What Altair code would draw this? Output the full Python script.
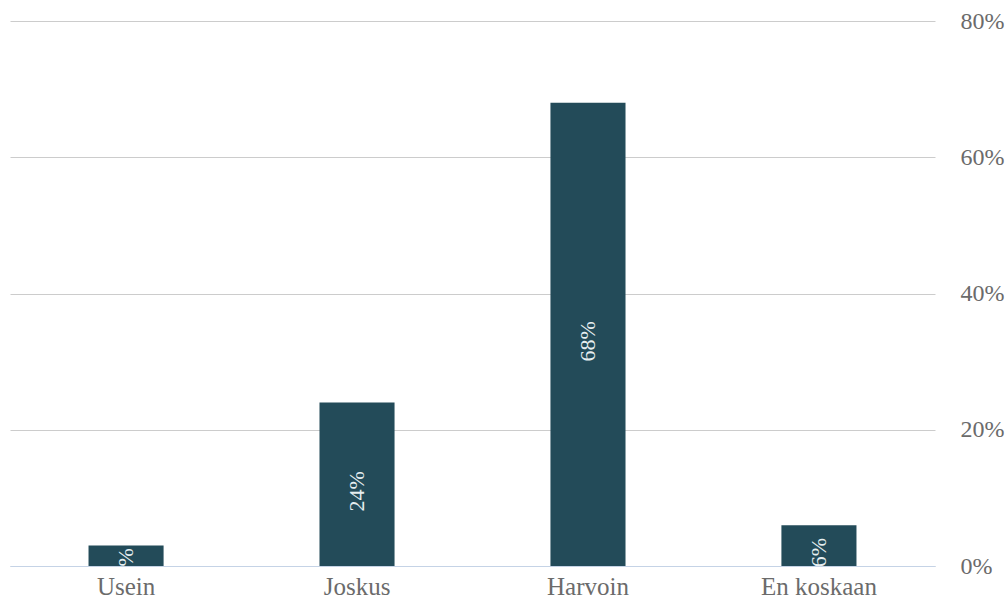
import altair as alt
import pandas as pd

categories = ["Usein", "Joskus", "Harvoin", "En koskaan"]
values = [3, 24, 68, 6]
labels = ["3%", "24%", "68%", "6%"]

df = pd.DataFrame({"cat": categories, "val": [v / 100 for v in values], "lab": labels})
df["mid"] = df["val"] / 2

x = alt.X("cat:N", sort=categories, title=None,
          scale=alt.Scale(paddingInner=0.675, paddingOuter=0.34),
          axis=alt.Axis(labelAngle=0, labelFont="Liberation Serif", labelFontSize=25,
                        labelColor="#6b6b6b", ticks=False, domainColor="#c5d3e6",
                        domainWidth=1.2, labelPadding=8))

bars = alt.Chart(df).mark_bar(color="#234B59").encode(
    x=x,
    y=alt.Y("val:Q", title=None,
            scale=alt.Scale(domain=[0, 0.8]),
            axis=alt.Axis(orient="right", format=".0%", values=[0, 0.2, 0.4, 0.6, 0.8],
                          labelFont="Liberation Serif", labelFontSize=24,
                          labelColor="#6b6b6b", ticks=False, domain=False,
                          gridColor="#cccccc", gridWidth=1, labelPadding=25)),
)

text = alt.Chart(df).mark_text(angle=270, color="#e6eef0", font="Liberation Serif",
                               fontSize=22, baseline="middle", align="center",
                               clip=True, dx=-7).encode(
    x=alt.X("cat:N", sort=categories),
    y=alt.Y("mid:Q"),
    text="lab:N",
)

chart = (bars + text).properties(
    width=925, height=545,
    background="white",
    autosize=alt.AutoSizeParams(type="none"),
    padding={"left": 10, "top": 21, "right": 73, "bottom": 35},
).configure_view(stroke=None, strokeWidth=0)

chart.save("out.html", embed_options={"renderer": "svg", "actions": False})
